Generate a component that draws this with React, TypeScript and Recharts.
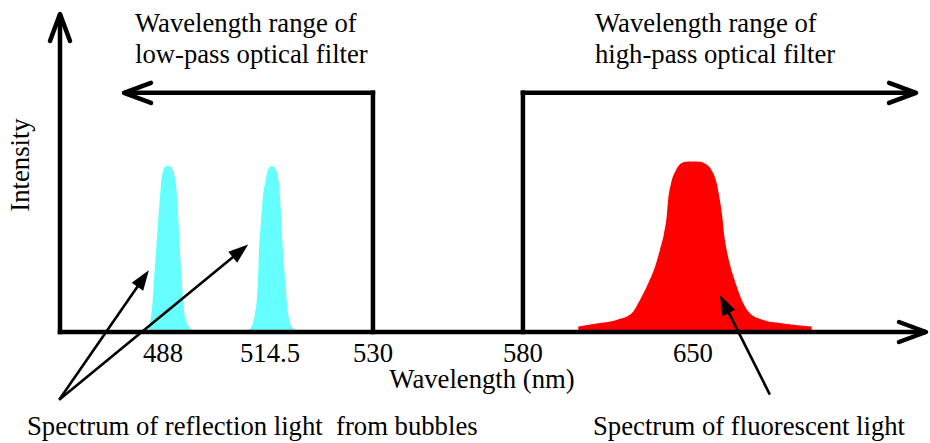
import { ComposedChart, Area, XAxis, YAxis, ReferenceLine } from "recharts"

// x axis is schematic: ticks are not evenly spaced in nm
const tickNm = [488, 514.5, 530, 580, 650]
const tickLabels = ["488", "514.5", "530", "580", "650"]
// where each tick sits along the axis (fraction of axis length)
const tickSlots = [0.1189, 0.2425, 0.3614, 0.5346, 0.7309]

const axisStartNm = 462.5
const axisEndNm = 746

// reflection light from bubbles, [nm, intensity]
const peak488: [number, number][] = [
  [484.3, 0], [484.8, 3], [485.45, 10], [485.8, 17], [486.3, 25.6], [486.8, 35],
  [487.3, 43], [487.5, 46.6], [488, 50.5], [488.5, 52], [489.2, 52.2], [490, 52],
  [490.5, 50.5], [491.2, 46.6], [491.7, 38], [492.2, 25.6], [492.6, 17], [493, 10],
  [493.4, 5], [493.9, 2.8], [494.7, 1.2], [495.7, 0.5], [496.7, 0],
]
const peak514: [number, number][] = [
  [507.6, 0], [509.05, 0.5], [510.04, 2], [510.79, 6], [511.21, 10], [511.53, 17],
  [511.78, 25.6], [512.27, 35], [512.77, 43], [513.26, 46.6], [514, 51], [514.8, 52.2],
  [515.4, 51], [515.85, 46.6], [516.15, 38], [516.45, 25.6], [516.76, 17], [517.01, 10],
  [517.36, 4], [517.81, 1.5], [518.56, 0.5], [519.31, 0],
]
// fluorescent light
const fluorescence: [number, number][] = [
  [602.8, 1.7], [610.35, 2.7], [618.6, 3.8], [624.8, 5.9], [628.2, 10.1], [631.6, 15.3],
  [634.4, 20.5], [636.4, 25.8], [638.1, 31], [639.2, 36.3], [639.8, 41.5], [641, 46.8],
  [643, 50.9], [644.04, 52.2], [645.07, 53], [647.13, 53.5], [650, 53.6], [652.9, 53.5],
  [654.96, 53], [656.4, 52.2], [657.7, 50.9], [659.8, 46.8],
  [661.1, 41.5], [662.1, 36.3], [662.8, 31], [663.9, 25.8], [665.5, 20.5], [667.6, 15.3],
  [670.1, 10.1], [673.5, 5.9], [679, 3.8], [687.2, 2.7], [698.9, 1.7],
]

// optical filter edges and the ends of their range arrows
const lowPassEdge = 530
const lowPassEnd = 478.35
const highPassEdge = 580
const highPassEnd = 741.9
const filterLevel = 75.2

// pointer arrows [from, to] as [nm, intensity]
const reflectionPointers = [
  [[462.3, -21.3], [484.5, 19.4]],
  [[462.3, -21.3], [509.1, 27.5]],
]
const fluorescencePointer = [[681.7, -19.7], [661.1, 11.6]]

const font = "'Liberation Serif', 'Times New Roman', serif"

function warp(nm: number) {
  let i = 0
  while (i < tickNm.length - 2 && nm > tickNm[i + 1]) i++
  const t = (nm - tickNm[i]) / (tickNm[i + 1] - tickNm[i])
  return tickSlots[i] + t * (tickSlots[i + 1] - tickSlots[i])
}

const toRows = (pts: [number, number][]) => pts.map(([nm, v]) => ({ pos: warp(nm), v }))

const pt = (nm: number, v: number) => ({ x: warp(nm), y: v })

const OpenArrow = (props: any) => {
  const { x1, y1, x2, y2 } = props
  const a = Math.atan2(y2 - y1, x2 - x1)
  const c = Math.cos(a), s = Math.sin(a)
  const len = 27, half = 10
  const bx = x2 - len * c, by = y2 - len * s
  return (
    <g>
      <line x1={x1 - 2.25 * c} y1={y1 - 2.25 * s} x2={x2} y2={y2} stroke="#000" strokeWidth={4.5} />
      <polyline
        points={`${bx - half * s},${by + half * c} ${x2},${y2} ${bx + half * s},${by - half * c}`}
        fill="none" stroke="#000" strokeWidth={4.5} strokeLinejoin="round" strokeLinecap="round"
      />
    </g>
  )
}

const PlainLine = (props: any) => {
  const { x1, y1, x2, y2 } = props
  return <line x1={x1} y1={y1} x2={x2} y2={y2} stroke="#000" strokeWidth={4.5} strokeLinecap="square" />
}

const FilledArrow = (props: any) => {
  const { x1, y1, x2, y2 } = props
  const a = Math.atan2(y2 - y1, x2 - x1)
  const c = Math.cos(a), s = Math.sin(a)
  const len = 20, half = 7
  const bx = x2 - len * c, by = y2 - len * s
  return (
    <g>
      <line x1={x1} y1={y1} x2={bx + 2 * c} y2={by + 2 * s} stroke="#000" strokeWidth={2.6} />
      <polygon points={`${bx - half * s},${by + half * c} ${x2},${y2} ${bx + half * s},${by - half * c}`} fill="#000" />
    </g>
  )
}

const textStyle = { fontFamily: font, fontSize: 26.7, fill: "#000" }

export default function App() {
  return (
    <div style={{ width: 930, height: 443, background: "#fff" }}>
      <style>{`body{margin:0}`}</style>
      <ComposedChart width={930} height={443} margin={{ top: 14, right: 4, left: 60, bottom: 81 }}>
        <XAxis
          type="number"
          dataKey="pos"
          domain={[warp(axisStartNm), warp(axisEndNm)]}
          ticks={tickNm.map(warp)}
          tickFormatter={(_v: number, i: number) => tickLabels[i]}
          interval={0}
          axisLine={false}
          tickLine={false}
          tickSize={0}
          tickMargin={11}
          height={30}
          tick={{ ...textStyle }}
        />
        <YAxis hide domain={[0, 100]} />
        <Area data={toRows(peak488)} dataKey="v" type="monotone" stroke="none" fill="#66FFFF" fillOpacity={1} isAnimationActive={false} />
        <Area data={toRows(peak514)} dataKey="v" type="monotone" stroke="none" fill="#66FFFF" fillOpacity={1} isAnimationActive={false} />
        <Area data={toRows(fluorescence)} dataKey="v" type="monotone" stroke="none" fill="#FF0000" fillOpacity={1} isAnimationActive={false} />

        {/* axes */}
        <ReferenceLine segment={[pt(axisStartNm, 0), pt(axisStartNm, 100)]} ifOverflow="visible" shape={OpenArrow} />
        <ReferenceLine segment={[pt(axisStartNm, 0), pt(axisEndNm, 0)]} ifOverflow="visible" shape={OpenArrow} />

        {/* filter ranges */}
        <ReferenceLine segment={[pt(lowPassEdge, 0), pt(lowPassEdge, filterLevel)]} ifOverflow="visible" shape={PlainLine} />
        <ReferenceLine segment={[pt(lowPassEdge, filterLevel), pt(lowPassEnd, filterLevel)]} ifOverflow="visible" shape={OpenArrow} />
        <ReferenceLine segment={[pt(highPassEdge, 0), pt(highPassEdge, filterLevel)]} ifOverflow="visible" shape={PlainLine} />
        <ReferenceLine segment={[pt(highPassEdge, filterLevel), pt(highPassEnd, filterLevel)]} ifOverflow="visible" shape={OpenArrow} />

        {/* pointers */}
        {reflectionPointers.map(([a, b], i) => (
          <ReferenceLine key={i} segment={[pt(a[0], a[1]), pt(b[0], b[1])]} ifOverflow="visible" shape={FilledArrow} />
        ))}
        <ReferenceLine
          segment={[pt(fluorescencePointer[0][0], fluorescencePointer[0][1]), pt(fluorescencePointer[1][0], fluorescencePointer[1][1])]}
          ifOverflow="visible"
          shape={FilledArrow}
        />

        <text x={135} y={32} style={textStyle}>Wavelength range of</text>
        <text x={135} y={63} style={textStyle}>low-pass optical filter</text>
        <text x={595} y={32} style={textStyle}>Wavelength range of</text>
        <text x={595} y={63} style={textStyle}>high-pass optical filter</text>
        <text x={29} y={165} textAnchor="middle" transform="rotate(-90, 29, 165)" style={textStyle}>Intensity</text>
        <text x={482} y={388} textAnchor="middle" style={textStyle}>Wavelength (nm)</text>
        <text x={27} y={435} style={{ ...textStyle, whiteSpace: "pre" }}>Spectrum of reflection light  from bubbles</text>
        <text x={593} y={435} style={textStyle}>Spectrum of fluorescent light</text>
      </ComposedChart>
    </div>
  )
}
